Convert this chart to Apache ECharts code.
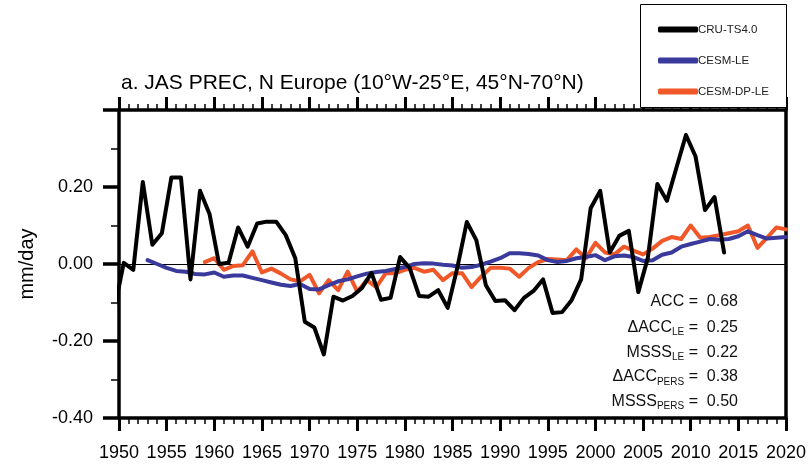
<!DOCTYPE html>
<html>
<head>
<meta charset="utf-8">
<script src="https://cdn.jsdelivr.net/npm/echarts@6/dist/echarts.min.js"></script>
<style>
html,body{margin:0;padding:0;background:#fff;}
#chart{width:810px;height:468px;}
</style>
</head>
<body>
<div id="chart"></div>
<script>
// ---- data ----
var titleText = 'a. JAS PREC, N Europe (10°W-25°E, 45°N-70°N)';
var yTicks = [-0.4, -0.2, 0.0, 0.2, 0.4];
var xTickYears = [1950,1955,1960,1965,1970,1975,1980,1985,1990,1995,2000,2005,2010,2015,2020];

// CRU-TS4.0 observations (annual, plotted at mid-year), 1949..2013
var cruStart = 1949;
var cruValues = [-0.12,
  0.003,-0.015,0.213,0.05,0.08,0.225,0.225,-0.04,0.19,0.13,
  0.0,0.003,0.095,0.045,0.105,0.11,0.11,0.075,0.015,-0.15,
  -0.165,-0.235,-0.085,-0.095,-0.083,-0.062,-0.023,-0.093,-0.088,0.018,
  -0.01,-0.083,-0.085,-0.068,-0.114,-0.01,0.109,0.062,-0.055,-0.096,
  -0.094,-0.12,-0.088,-0.07,-0.04,-0.127,-0.125,-0.094,-0.04,0.145,
  0.19,0.03,0.073,0.086,-0.073,0.016,0.208,0.164,0.25,0.335,
  0.28,0.14,0.174,0.03];

// CESM-LE, 1953..2020
var leStart = 1953;
var leValues = [0.01,0.0,-0.01,-0.018,-0.02,-0.026,-0.027,
  -0.022,-0.033,-0.03,-0.03,-0.036,-0.042,-0.048,-0.054,-0.057,-0.052,
  -0.065,-0.066,-0.055,-0.045,-0.04,-0.032,-0.025,-0.021,-0.018,-0.013,
  -0.008,0.0,0.002,0.001,-0.002,-0.004,-0.01,-0.008,-0.002,0.006,
  0.015,0.028,0.028,0.026,0.022,0.01,0.005,0.008,0.015,0.018,
  0.023,0.01,0.02,0.022,0.018,0.008,0.01,0.024,0.03,0.045,
  0.052,0.058,0.065,0.063,0.065,0.072,0.085,0.075,0.066,0.068,
  0.07];

// CESM-DP-LE, 1959..2020
var dpStart = 1959;
var dpValues = [0.005,
  0.015,-0.015,-0.005,-0.003,0.033,-0.022,-0.012,-0.025,-0.04,-0.045,
  -0.028,-0.076,-0.042,-0.068,-0.02,-0.072,-0.042,-0.06,-0.024,-0.024,
  -0.015,-0.01,-0.02,-0.015,-0.042,-0.024,-0.024,-0.06,-0.033,-0.01,
  -0.01,-0.012,-0.033,-0.01,0.005,0.013,0.012,0.01,0.038,0.015,
  0.055,0.03,0.025,0.045,0.035,0.025,0.04,0.06,0.07,0.065,
  0.1,0.068,0.07,0.075,0.08,0.085,0.1,0.042,0.068,0.095,
  0.09];

var statLabels = [
  {main:'ACC', sub:'', val:'0.68'},
  {main:'ΔACC', sub:'LE', val:'0.25'},
  {main:'MSSS', sub:'LE', val:'0.22'},
  {main:'ΔACC', sub:'PERS', val:'0.38'},
  {main:'MSSS', sub:'PERS', val:'0.50'}
];

var seriesNames = ['CRU-TS4.0','CESM-LE','CESM-DP-LE'];
var seriesColors = ['#000000','#3a3a9c','#f0582a'];

// ---- build ----
function pairs(start, vals, offset){
  return vals.map(function(v,i){ return [start + i + offset, v]; });
}
var FONT = 'Liberation Sans, Arial, Helvetica, sans-serif';

var chart = echarts.init(document.getElementById('chart'), null, {renderer:'canvas'});

var statGraphics = statLabels.map(function(s, i){
  var txt = '{m|' + s.main + '}' + (s.sub ? '{s|' + s.sub + '}' : '') + '{m| =  ' + s.val + '}';
  return {
    type:'text', right: 72, top: 294 + i*24.6, z: 10,
    style:{
      text: txt, fill:'#111', font: '16px ' + FONT, align:'right',
      rich:{
        m:{fontSize:16, fontFamily:FONT, fill:'#111', lineHeight:20, verticalAlign:'middle'},
        s:{fontSize:10, fontFamily:FONT, fill:'#111', lineHeight:20, verticalAlign:'bottom', padding:[9,0,0,0]}
      }
    }
  };
});

var axisCommonX = {
  type:'value', min:1950, max:2020, interval:5,
  axisLine:{show:true, onZero:false, lineStyle:{color:'#000', width:3.5}},
  axisTick:{show:true, inside:false, length:13, lineStyle:{color:'#000', width:3}},
  minorTick:{show:true, splitNumber:5, length:6, lineStyle:{color:'#000', width:1.5}},
  splitLine:{show:false}, minorSplitLine:{show:false}
};

var option = {
  animation:false,
  backgroundColor:'#fff',
  textStyle:{fontFamily:FONT},
  title:{
    text:titleText, left:116, top:68,
    textStyle:{fontSize:21, fontWeight:'normal', color:'#000', fontFamily:FONT}
  },
  grid:{left:119, right:24, top:110, bottom:50, containLabel:false},
  legend:{
    orient:'vertical', left:653, top:18, z:20,
    itemWidth:40, itemHeight:6, itemGap:18,
    icon:'roundRect',
    data:seriesNames,
    textStyle:{fontSize:11.5, color:'#222', fontFamily:FONT, lineHeight:13, padding:[0,0,0,-5]}
  },
  graphic:[
    {type:'rect', left:640, top:4, z:15, shape:{width:146, height:103},
     style:{fill:'#fff', stroke:'#000', lineWidth:1}}
  ].concat(statGraphics),
  xAxis:[
    Object.assign({}, axisCommonX, {
      position:'bottom',
      axisLabel:{show:true, fontSize:18, color:'#000', margin:26, fontFamily:FONT,
        formatter:function(v){ return xTickYears.indexOf(v) >= 0 ? String(v) : ''; }}
    }),
    Object.assign({}, axisCommonX, {
      position:'top',
      axisLabel:{show:false}
    })
  ],
  yAxis:[
    {
      type:'value', min:yTicks[0], max:yTicks[yTicks.length-1], interval:0.2,
      position:'left',
      name:'mm/day', nameLocation:'middle', nameGap:82, nameRotate:90,
      nameTextStyle:{fontSize:20, color:'#000', fontFamily:FONT},
      axisLine:{show:true, onZero:false, lineStyle:{color:'#000', width:3.5}},
      axisTick:{show:true, inside:false, length:16, lineStyle:{color:'#000', width:3.5}},
      minorTick:{show:true, splitNumber:2, length:8, lineStyle:{color:'#000', width:1.5}},
      axisLabel:{show:true, fontSize:18, color:'#000', margin:26, fontFamily:FONT,
        formatter:function(v){ return Math.abs(v - 0.4) < 1e-9 ? '' : v.toFixed(2); }},
      splitLine:{show:false}
    },
    {
      type:'value', min:yTicks[0], max:yTicks[yTicks.length-1], interval:0.2,
      position:'right',
      axisLine:{show:true, onZero:false, lineStyle:{color:'#000', width:3.5}},
      axisTick:{show:false}, axisLabel:{show:false}, splitLine:{show:false}
    }
  ],
  series:[
    {
      name:seriesNames[2], type:'line', data:pairs(dpStart, dpValues, 0),
      showSymbol:false, symbol:'none', z:2,
      lineStyle:{color:seriesColors[2], width:4, cap:'round', join:'round'},
      itemStyle:{color:seriesColors[2]}
    },
    {
      name:seriesNames[1], type:'line', data:pairs(leStart, leValues, 0),
      showSymbol:false, symbol:'none', z:3,
      lineStyle:{color:seriesColors[1], width:4, cap:'round', join:'round'},
      itemStyle:{color:seriesColors[1]},
      markLine:{
        silent:true, symbol:['none','none'], label:{show:false}, animation:false,
        lineStyle:{color:'#000', width:1, type:'solid'},
        data:[{yAxis:0}], z:1
      }
    },
    {
      name:seriesNames[0], type:'line', data:pairs(cruStart, cruValues, 0.5),
      showSymbol:false, symbol:'none', z:4, clip:true,
      lineStyle:{color:seriesColors[0], width:4, cap:'round', join:'round'},
      itemStyle:{color:seriesColors[0]}
    }
  ]
};
chart.setOption(option);
</script>
</body>
</html>
